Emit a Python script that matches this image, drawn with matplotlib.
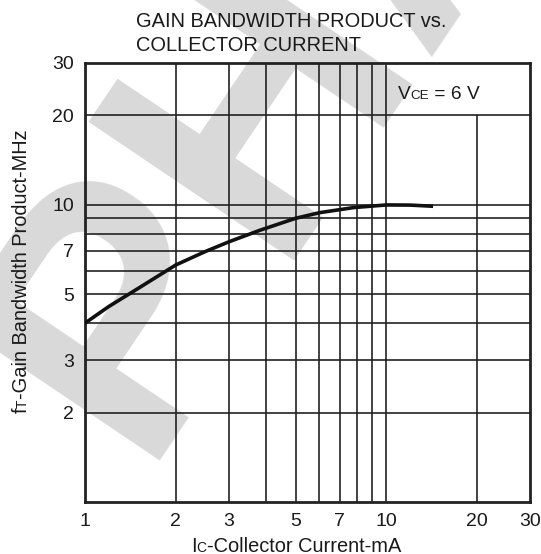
import matplotlib
matplotlib.use('Agg')
import matplotlib.pyplot as plt
from matplotlib.transforms import IdentityTransform
from matplotlib.ticker import NullLocator

plt.rcParams['font.family'] = ['Liberation Sans', 'DejaVu Sans']

# ---- data ----
ic_ma = [1.0, 1.2, 1.45, 2.0, 2.5, 3.0, 3.8, 5.0, 6.0, 7.8, 10.0, 12.0, 14.3]
ft_mhz = [4.0, 4.55, 5.12, 6.27, 6.95, 7.5, 8.2, 9.0, 9.4, 9.78, 9.98, 9.97, 9.88]

x_ticks = [1, 2, 3, 5, 7, 10, 20, 30]
x_tick_labels = ['1', '2', '3', '5', '7', '10', '20', '30']
y_ticks = [2, 3, 5, 7, 10, 20, 30]
y_tick_labels = ['2', '3', '5', '7', '10', '20', '30']

grid_x_full = [2, 3, 4, 5, 6, 7, 8, 9, 10]
grid_x_part = [20]
grid_y = [2, 3, 4, 5, 6, 7, 8, 9, 10, 20]

W, H = 541, 554
fig = plt.figure(figsize=(W / 100, H / 100), dpi=100)
fig.patch.set_facecolor('white')

L, R, T, B = 85, 530, 62.7, 502.3
ax = fig.add_axes([L / W, (H - B) / H, (R - L) / W, (B - T) / H])
ax.patch.set_alpha(0)
ax.set_xscale('log')
ax.set_yscale('log')
ax.set_xlim(1, 30)
ax.set_ylim(1, 30)

ax.set_xticks(x_ticks)
ax.set_xticklabels(x_tick_labels)
ax.set_yticks(y_ticks)
ax.set_yticklabels(y_tick_labels)
ax.xaxis.set_minor_locator(NullLocator())
ax.yaxis.set_minor_locator(NullLocator())
ax.tick_params(length=0, labelsize=14, colors='#1a1a1a')
ax.tick_params(axis='x', pad=8)
ax.tick_params(axis='y', pad=8)

gc = '#222222'
ax.vlines(grid_x_full, 1, 30, colors=gc, lw=1.2, zorder=2)
ax.vlines(grid_x_part, 1, 20, colors=gc, lw=1.2, zorder=2)
ax.hlines(grid_y, 1, 30, colors=gc, lw=1.2, zorder=2)

for s in ax.spines.values():
    s.set_linewidth(2.0)
    s.set_color('#222222')

ax.plot(ic_ma, ft_mhz, color='#111111', lw=2.6, zorder=3, solid_capstyle='butt')

# ---- watermark ----
fig.text(147 / W, (H - 480) / H, 'PHASE OUT', fontsize=260, fontweight='bold',
         color='#d9d9d9', rotation=56, rotation_mode='anchor',
         ha='left', va='baseline', zorder=-5)

# ---- text helpers ----
renderer = fig.canvas.get_renderer()


def chain(x, y, pieces, rotation=0):
    for txt, size in pieces:
        t = fig.text(x, y, txt, fontsize=size, color='#1a1a1a', transform=IdentityTransform(),
                     rotation=rotation, rotation_mode='anchor', ha='left', va='baseline')
        bb = t.get_window_extent(renderer)
        if rotation == 0:
            x += bb.width
        else:
            y += bb.height


big, small = 14.4, 10
# title
fig.text(136 / W, (H - 26.7) / H, 'GAIN BANDWIDTH PRODUCT vs.', fontsize=big,
         color='#1a1a1a', ha='left', va='baseline')
fig.text(136 / W, (H - 51) / H, 'COLLECTOR CURRENT', fontsize=big,
         color='#1a1a1a', ha='left', va='baseline')
# condition label
chain(397.5, H - 99, [('V', 13.8), ('CE', 9.6), (' = 6 V', 13.8)])
# x label
chain(191, H - 551.5, [('I', big), ('C', small), ('-Collector Current-mA', big)])
# y label
chain(27, H - 413, [('f', big), ('T', small), ('-Gain Bandwidth Product-MHz', big)], rotation=90)

fig.savefig('out.png', dpi=100)
